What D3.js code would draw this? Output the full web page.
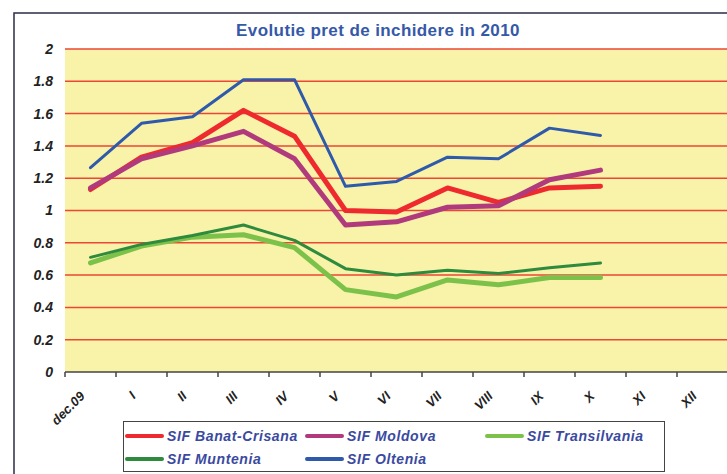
<!DOCTYPE html>
<html>
<head>
<meta charset="utf-8">
<script src="https://cdn.jsdelivr.net/npm/d3@7"></script>
<style>
  body { margin: 0; background: #fff; }
  svg { display: block; font-family: "Liberation Sans", Arial, sans-serif; }
</style>
</head>
<body>
<div id="chart"></div>
<script>
// categories (months)
var months = ["dec.09", "I", "II", "III", "IV", "V", "VI", "VII", "VIII", "IX", "X", "XI", "XII"];
var yTicks = [0, 0.2, 0.4, 0.6, 0.8, 1, 1.2, 1.4, 1.6, 1.8, 2];

// closing prices, dec.09 .. X
var banatCrisana = [1.13, 1.33, 1.42, 1.62, 1.46, 1.00, 0.99, 1.14, 1.05, 1.14, 1.15];
var moldova      = [1.14, 1.32, 1.40, 1.49, 1.32, 0.91, 0.93, 1.02, 1.03, 1.19, 1.25];
var transilvania = [0.675, 0.78, 0.835, 0.85, 0.77, 0.51, 0.465, 0.57, 0.54, 0.585, 0.585];
var muntenia     = [0.71, 0.79, 0.845, 0.91, 0.815, 0.64, 0.60, 0.63, 0.61, 0.645, 0.675];
var oltenia      = [1.265, 1.54, 1.58, 1.81, 1.81, 1.15, 1.18, 1.33, 1.32, 1.51, 1.465];

var series = [
  {name: "SIF Banat-Crisana", values: banatCrisana, color: "#ee2a2e", width: 5},
  {name: "SIF Moldova", values: moldova, color: "#b13a7c", width: 5},
  {name: "SIF Transilvania", values: transilvania, color: "#7cc24a", width: 5},
  {name: "SIF Muntenia", values: muntenia, color: "#2e8a3c", width: 3},
  {name: "SIF Oltenia", values: oltenia, color: "#2f5aab", width: 3}
];

var W = 727, H = 474;
var svg = d3.select("#chart").append("svg").attr("width", W).attr("height", H);

// outer frame
svg.append("rect").attr("x", 14).attr("y", 13).attr("width", 740).attr("height", 500)
  .attr("fill", "#fff").attr("stroke", "#2b2b45").attr("stroke-width", 1.5);

var x = d3.scaleBand().domain(months).range([65, 728]);
var y = d3.scaleLinear().domain([0, 2]).range([372, 49]);

// plot background
svg.append("rect").attr("x", 65).attr("y", y(2)).attr("width", 663).attr("height", y(0) - y(2))
  .attr("fill", "#f8f3a9");

// gridlines
svg.append("g").selectAll("line").data(yTicks.filter(d => d > 0)).enter()
  .append("line")
  .attr("x1", 65).attr("x2", 728)
  .attr("y1", d => y(d)).attr("y2", d => y(d))
  .attr("stroke", "#ee4636").attr("stroke-width", 1.5);

// y labels
svg.append("g").selectAll("text").data(yTicks).enter()
  .append("text")
  .attr("x", 53).attr("y", d => y(d)).attr("dy", "0.35em")
  .attr("text-anchor", "end")
  .attr("font-size", 14).attr("font-weight", "bold").attr("font-style", "italic")
  .attr("fill", "#222")
  .text(d => d);

// x axis
var xAxis = svg.append("g").attr("transform", "translate(0," + y(0) + ")");
xAxis.append("line").attr("x1", 65).attr("x2", 728).attr("stroke", "#444").attr("stroke-width", 1.5);
xAxis.selectAll(".tk").data(months).enter().append("line").attr("class", "tk")
  .attr("x1", d => x(d)).attr("x2", d => x(d)).attr("y1", 0).attr("y2", 5)
  .attr("stroke", "#444").attr("stroke-width", 1.5);
xAxis.selectAll("text").data(months).enter().append("text")
  .attr("transform", d => "translate(" + (x(d) + x.bandwidth() / 2 - 5) + ",25) rotate(-45)")
  .attr("text-anchor", "end")
  .attr("font-size", 13).attr("font-weight", "bold").attr("font-style", "italic")
  .attr("fill", "#222")
  .text(d => d);

// lines
var line = d3.line()
  .x((d, i) => x(months[i]) + x.bandwidth() / 2)
  .y(d => y(d));

svg.append("g").selectAll("path").data(series).enter()
  .append("path")
  .attr("d", d => line(d.values))
  .attr("fill", "none")
  .attr("stroke", d => d.color)
  .attr("stroke-width", d => d.width)
  .attr("stroke-linejoin", "round")
  .attr("stroke-linecap", "round");

// title
svg.append("text").attr("x", 378).attr("y", 36)
  .attr("text-anchor", "middle")
  .attr("font-size", 17).attr("font-weight", "bold")
  .attr("letter-spacing", 0.4)
  .attr("fill", "#3559a8")
  .text("Evolutie pret de inchidere in 2010");

// legend
svg.append("rect").attr("x", 123.5).attr("y", 421.5).attr("width", 541).attr("height", 50)
  .attr("fill", "#fff").attr("stroke", "#444").attr("stroke-width", 1);

var legendPos = [[127, 436], [307, 436], [487, 436], [127, 459], [307, 459]];
var leg = svg.append("g").selectAll("g").data(series).enter().append("g")
  .attr("transform", (d, i) => "translate(" + legendPos[i][0] + "," + legendPos[i][1] + ")");
leg.append("line").attr("x1", 0).attr("x2", 35)
  .attr("stroke", d => d.color).attr("stroke-width", 4).attr("stroke-linecap", "round");
leg.append("text").attr("x", 40).attr("dy", "0.36em")
  .attr("font-size", 14).attr("font-weight", "bold").attr("font-style", "italic")
  .attr("letter-spacing", 0.6)
  .attr("fill", "#3a4a9f")
  .text(d => d.name);
</script>
</body>
</html>
